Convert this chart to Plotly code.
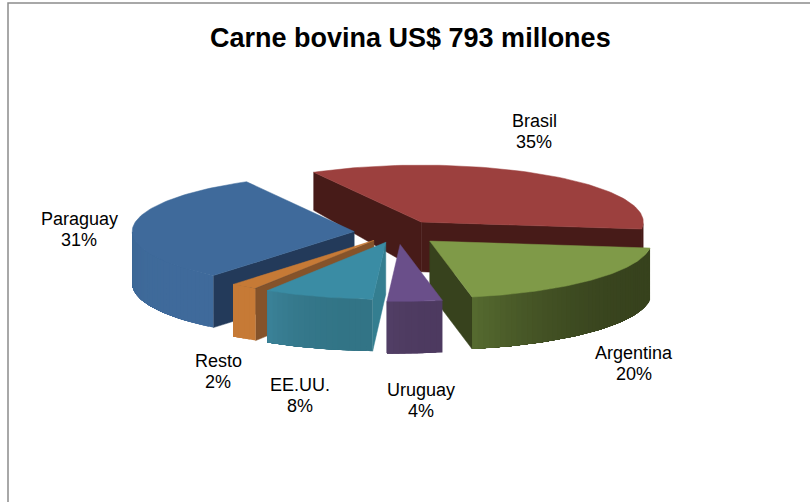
"""Carne bovina: exploded 3D-look pie drawn with filled scatter polygons."""

import numpy as np
import plotly.graph_objects as go

TITLE = "Carne bovina US$ 793 millones"

# clockwise from the first slice, in percent
LABELS = ["Brasil", "Argentina", "Uruguay", "EE.UU.", "Resto", "Paraguay"]
VALUES = [35, 20, 4, 8, 2, 31]

# how far each slice is pulled out of the pie, plus a small sideways nudge
PULLS = [0.22, 0.22, 0.21, 0.18, 0.17, 0.18]
NUDGES = [0, 0, 3, 4, 2, 0]

TOP_COLORS = ["#9C403E", "#7F9A48", "#6A4F8A", "#3A8CA4", "#C67A36", "#3F6A9B"]
SIDE_COLORS = ["#471B18", "#37421D", "#4D3B61", "#347E90", "#85532A", "#233A5A"]
# outer wall colour at the start and the end of each arc
RIM_START = ["#471B18", "#37421D", "#4D3A60", "#327486", "#C67A36", "#3F6A9B"]
RIM_END = ["#471B18", "#566B30", "#523F66", "#3B8298", "#C67A36", "#3C6894"]

# label centres, in page pixels
LABEL_X = [534, 634, 421, 300, 218, 79]
LABEL_Y = [131, 363, 400, 395, 371, 229]

# draw order, back to front
DRAW_ORDER = [0, 5, 1, 4, 3, 2]

START_ANGLE = -29
CX, CY = 394, 232.5
RX, RY = 222, 57


def wall_depth(y):
    """Walls get shorter towards the back of the pie."""
    return 52 - 14 * np.maximum(0, 232 - y) / 60


def hex_mix(c1, c2, t):
    a = [int(c1[i:i + 2], 16) for i in (1, 3, 5)]
    b = [int(c2[i:i + 2], 16) for i in (1, 3, 5)]
    return "rgb({:.0f},{:.0f},{:.0f})".format(*[p + (q - p) * t for p, q in zip(a, b)])


def polygon(fig, xs, ys, color, line_width=0.5):
    fig.add_trace(
        go.Scatter(
            x=list(xs) + [xs[0]],
            y=list(ys) + [ys[0]],
            mode="lines",
            fill="toself",
            fillcolor=color,
            line=dict(color=color, width=line_width),
            hoverinfo="skip",
            showlegend=False,
        )
    )


def rim_point(ax, ay, angle):
    rad = np.radians(angle)
    return ax + RX * np.sin(rad), ay - RY * np.cos(rad)


def add_slice(fig, i, a0, a1):
    mid = np.radians((a0 + a1) / 2)
    ax = CX + PULLS[i] * RX * np.sin(mid) + NUDGES[i]
    ay = CY - PULLS[i] * RY * np.cos(mid)

    # straight side walls, only where the top face sits above the edge
    gx, gy = ax + RX / 2 * np.sin(mid), ay - RY / 2 * np.cos(mid)
    for angle in (a0, a1):
        ox, oy = rim_point(ax, ay, angle)
        edge_y = ay + (oy - ay) * (gx - ax) / (ox - ax)
        if gy < edge_y:
            polygon(
                fig,
                [ax, ox, ox, ax],
                [ay, oy, oy + wall_depth(oy), ay + wall_depth(ay)],
                SIDE_COLORS[i],
            )

    # outer wall: each strip runs to the end of the arc and the next one
    # paints over it, that way no seams show between them
    lo, hi = max(a0, 90), min(a1, 270)
    if hi > lo:
        steps = np.linspace(lo, hi, max(2, int((hi - lo) / 1.5) + 1))
        for n in range(len(steps) - 1):
            arc = np.linspace(steps[n], hi, 60)
            xs, ys = rim_point(ax, ay, arc)
            t = ((steps[n] + steps[n + 1]) / 2 - lo) / (hi - lo)
            polygon(
                fig,
                list(xs) + list(xs[::-1]),
                list(ys) + list((ys + wall_depth(ys))[::-1]),
                hex_mix(RIM_START[i], RIM_END[i], t**3),
                line_width=0,
            )

    # top face
    arc = np.linspace(a0, a1, 80)
    xs, ys = rim_point(ax, ay, arc)
    polygon(fig, [ax] + list(xs), [ay] + list(ys), TOP_COLORS[i])


fig = go.Figure()

# chart frame, only the top and left sides are visible
fig.add_trace(
    go.Scatter(
        x=[810, 8, 8],
        y=[3, 3, 502],
        mode="lines",
        line=dict(color="#8C8C8C", width=1.5),
        hoverinfo="skip",
        showlegend=False,
    )
)

edges = START_ANGLE + np.cumsum([0] + VALUES) * 3.6
for i in DRAW_ORDER:
    add_slice(fig, i, edges[i], edges[i + 1])

annotations = [
    dict(
        x=410,
        y=38,
        text=f"<b>{TITLE}</b>",
        showarrow=False,
        font=dict(family="Liberation Sans", size=27, color="black"),
    )
]
for label, value, x, y in zip(LABELS, VALUES, LABEL_X, LABEL_Y):
    for line, dy in ((label, -10.5), (f"{value}%", 10.5)):
        annotations.append(
            dict(
                x=x,
                y=y + dy,
                text=line,
                showarrow=False,
                font=dict(family="Liberation Sans", size=18, color="black"),
            )
        )

fig.update_layout(
    width=810,
    height=502,
    margin=dict(l=0, r=0, t=0, b=0),
    paper_bgcolor="white",
    plot_bgcolor="white",
    xaxis=dict(range=[0, 810], visible=False),
    yaxis=dict(range=[502, 0], visible=False),
    annotations=annotations,
)

# drop the default body margin so the figure fills the window
fig.write_html(
    "out.html",
    config={"displayModeBar": False},
    post_script="document.body.style.margin = '0';",
)
